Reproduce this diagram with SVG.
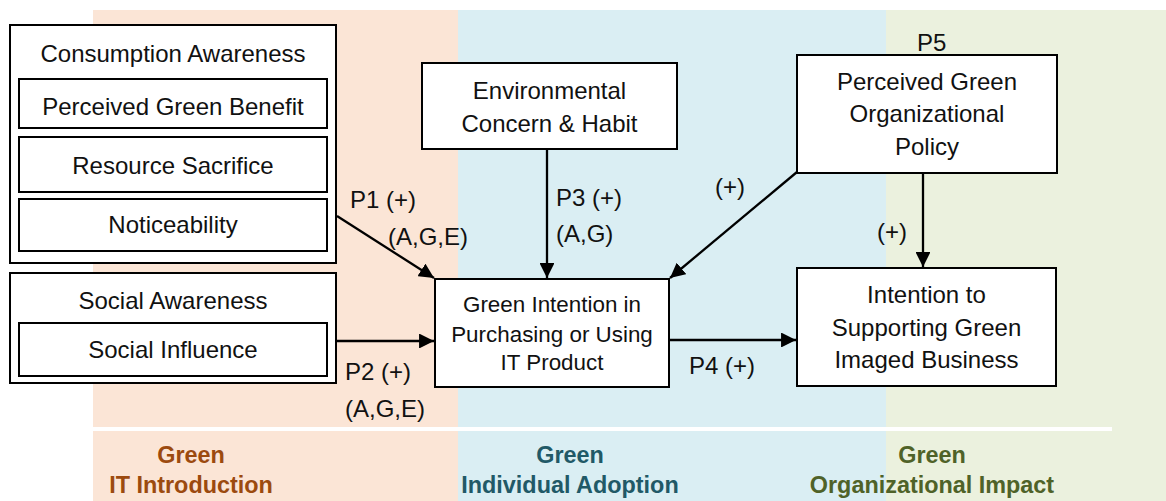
<svg xmlns="http://www.w3.org/2000/svg" width="1166" height="501" viewBox="0 0 1166 501">
<style>
.box{fill:#fff;stroke:#000;stroke-width:2}
.t{font-family:"Liberation Sans",Arial,sans-serif;font-size:24px;fill:#111;text-anchor:middle}
.ts{font-size:22.4px}
.lbl{font-family:"Liberation Sans",Arial,sans-serif;font-size:24px;fill:#111}
.b{font-family:"Liberation Sans",Arial,sans-serif;font-size:23.4px;font-weight:bold;text-anchor:middle}
.con{stroke:#000;stroke-width:2.3;fill:none;marker-end:url(#ah)}
</style>
<defs>
<marker id="ah" viewBox="0 0 10 10" refX="10" refY="5" markerWidth="6.5" markerHeight="6.5" markerUnits="strokeWidth" orient="auto">
<path d="M0,0 L10,5 L0,10 z" fill="#000"/>
</marker>
</defs>
<g id="bands">
<rect x="93" y="10" width="365" height="491" fill="#FBE5D6"/>
<rect x="458" y="10" width="428" height="491" fill="#DAEEF3"/>
<rect x="886" y="10" width="280" height="491" fill="#EBF1DE"/>
<rect x="93" y="427" width="1019" height="4" fill="#fff"/>
<text class="b" x="191" y="463" fill="#9C4A0F">Green</text>
<text class="b" x="191" y="493" fill="#9C4A0F">IT Introduction</text>
<text class="b" x="570" y="463" fill="#215967">Green</text>
<text class="b" x="570" y="493" fill="#215967">Individual Adoption</text>
<text class="b" x="932" y="463" fill="#4F6228">Green</text>
<text class="b" x="932" y="493" fill="#4F6228">Organizational Impact</text>
</g>
<g id="connectors">
<line class="con" x1="337" y1="216" x2="434" y2="278"/>
<line class="con" x1="336" y1="341" x2="434" y2="341"/>
<line class="con" x1="547" y1="149" x2="547" y2="278"/>
<line class="con" x1="797" y1="172" x2="670" y2="278"/>
<line class="con" x1="923" y1="173" x2="923" y2="267"/>
<line class="con" x1="669" y1="340" x2="796" y2="340"/>
<text class="lbl" x="350" y="208">P1 (+)</text>
<text class="lbl" x="388" y="245">(A,G,E)</text>
<text class="lbl" x="345" y="380">P2 (+)</text>
<text class="lbl" x="345" y="417">(A,G,E)</text>
<text class="lbl" x="556" y="206">P3 (+)</text>
<text class="lbl" x="556" y="242">(A,G)</text>
<text class="lbl" x="715" y="195">(+)</text>
<text class="lbl" x="877" y="240">(+)</text>
<text class="lbl" x="689" y="374">P4 (+)</text>
<text class="lbl" x="917" y="51">P5</text>
</g>
<g id="consumption-awareness">
<rect class="box" x="10" y="25" width="326" height="238"/>
<text class="t" x="173" y="62">Consumption Awareness</text>
</g>
<g id="perceived-green-benefit">
<rect class="box" x="19" y="79" width="308" height="49"/>
<text class="t" x="173" y="115">Perceived Green Benefit</text>
</g>
<g id="resource-sacrifice">
<rect class="box" x="19" y="137" width="308" height="55"/>
<text class="t" x="173" y="174">Resource Sacrifice</text>
</g>
<g id="noticeability">
<rect class="box" x="19" y="199" width="308" height="52"/>
<text class="t" x="173" y="233">Noticeability</text>
</g>
<g id="social-awareness">
<rect class="box" x="10" y="273" width="326" height="110"/>
<text class="t" x="173" y="309">Social Awareness</text>
</g>
<g id="social-influence">
<rect class="box" x="19" y="323" width="308" height="53"/>
<text class="t" x="173" y="358">Social Influence</text>
</g>
<g id="environmental-concern">
<rect class="box" x="422" y="63" width="255" height="86"/>
<text class="t" x="549.5" y="99">Environmental</text>
<text class="t" x="549.5" y="132">Concern &amp; Habit</text>
</g>
<g id="green-intention">
<rect class="box" x="435" y="279" width="234" height="108"/>
<text class="t ts" x="552" y="312">Green Intention in</text>
<text class="t ts" x="552" y="342">Purchasing or Using</text>
<text class="t ts" x="552" y="370">IT Product</text>
</g>
<g id="perceived-green-org-policy">
<rect class="box" x="797" y="55" width="260" height="118"/>
<text class="t" x="927" y="90">Perceived Green</text>
<text class="t" x="927" y="122">Organizational</text>
<text class="t" x="927" y="155">Policy</text>
</g>
<g id="intention-supporting">
<rect class="box" x="797" y="268" width="259" height="118"/>
<text class="t" x="926.5" y="303">Intention to</text>
<text class="t" x="926.5" y="336">Supporting Green</text>
<text class="t" x="926.5" y="368">Imaged Business</text>
</g>
</svg>
